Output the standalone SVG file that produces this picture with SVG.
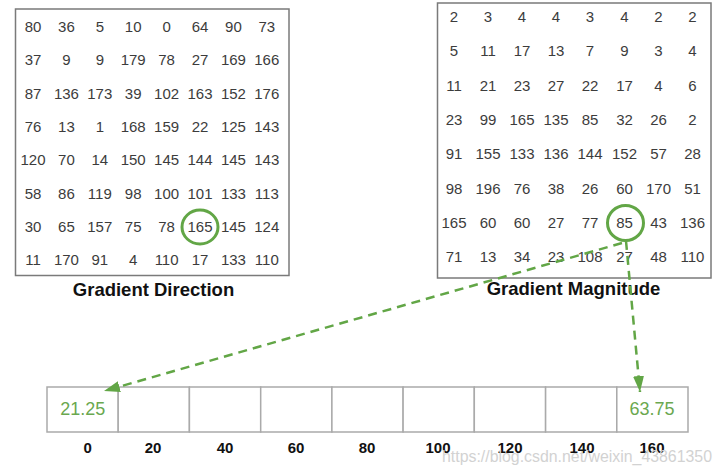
<svg xmlns="http://www.w3.org/2000/svg" width="722" height="476" viewBox="0 0 722 476">
<style>
.box{fill:#fff;stroke:#7a7a7a;stroke-width:1.5}
.n{font-family:"Liberation Sans",Arial,sans-serif;font-size:15px;fill:#3c3c3c;text-anchor:middle}
.title{font-family:"Liberation Sans",Arial,sans-serif;font-size:18.5px;font-weight:bold;fill:#111;text-anchor:middle}
.cell{fill:#fff;stroke:#aaa;stroke-width:1.5}
.lab{font-family:"Liberation Sans",Arial,sans-serif;font-size:15px;font-weight:bold;fill:#111;text-anchor:middle}
.val{font-family:"Liberation Sans",Arial,sans-serif;font-size:18px;fill:#6aa84f;text-anchor:middle}
.ring{fill:none;stroke:#62a646;stroke-width:3}
.conn{fill:none;stroke:#62a646;stroke-width:2.5;stroke-dasharray:9 6}
.wm{font-family:"Liberation Sans",Arial,sans-serif;font-size:16px;fill:#d2d2d2}
</style>
<defs>
<marker id="ah" markerUnits="userSpaceOnUse" markerWidth="18" markerHeight="12" refX="16" refY="5.5" orient="auto">
<path d="M0,0 L16,5.5 L0,11 z" fill="#62a646"/>
</marker>
</defs>
<rect width="722" height="476" fill="#fff"/>

<g id="direction">
<rect class="box" x="15.5" y="9" width="273.5" height="266.5"/>
<g class="n">
<text x="33" y="32">80</text><text x="66.4" y="32">36</text><text x="99.8" y="32">5</text><text x="133.2" y="32">10</text><text x="166.6" y="32">0</text><text x="200" y="32">64</text><text x="233.4" y="32">90</text><text x="266.8" y="32">73</text>
<text x="33" y="65.3">37</text><text x="66.4" y="65.3">9</text><text x="99.8" y="65.3">9</text><text x="133.2" y="65.3">179</text><text x="166.6" y="65.3">78</text><text x="200" y="65.3">27</text><text x="233.4" y="65.3">169</text><text x="266.8" y="65.3">166</text>
<text x="33" y="98.6">87</text><text x="66.4" y="98.6">136</text><text x="99.8" y="98.6">173</text><text x="133.2" y="98.6">39</text><text x="166.6" y="98.6">102</text><text x="200" y="98.6">163</text><text x="233.4" y="98.6">152</text><text x="266.8" y="98.6">176</text>
<text x="33" y="131.9">76</text><text x="66.4" y="131.9">13</text><text x="99.8" y="131.9">1</text><text x="133.2" y="131.9">168</text><text x="166.6" y="131.9">159</text><text x="200" y="131.9">22</text><text x="233.4" y="131.9">125</text><text x="266.8" y="131.9">143</text>
<text x="33" y="165.2">120</text><text x="66.4" y="165.2">70</text><text x="99.8" y="165.2">14</text><text x="133.2" y="165.2">150</text><text x="166.6" y="165.2">145</text><text x="200" y="165.2">144</text><text x="233.4" y="165.2">145</text><text x="266.8" y="165.2">143</text>
<text x="33" y="198.5">58</text><text x="66.4" y="198.5">86</text><text x="99.8" y="198.5">119</text><text x="133.2" y="198.5">98</text><text x="166.6" y="198.5">100</text><text x="200" y="198.5">101</text><text x="233.4" y="198.5">133</text><text x="266.8" y="198.5">113</text>
<text x="33" y="231.8">30</text><text x="66.4" y="231.8">65</text><text x="99.8" y="231.8">157</text><text x="133.2" y="231.8">75</text><text x="166.6" y="231.8">78</text><text x="200" y="231.8">165</text><text x="233.4" y="231.8">145</text><text x="266.8" y="231.8">124</text>
<text x="33" y="265.1">11</text><text x="66.4" y="265.1">170</text><text x="99.8" y="265.1">91</text><text x="133.2" y="265.1">4</text><text x="166.6" y="265.1">110</text><text x="200" y="265.1">17</text><text x="233.4" y="265.1">133</text><text x="266.8" y="265.1">110</text>
</g>
<ellipse class="ring" cx="200" cy="227" rx="18" ry="17"/>
<text class="title" x="153.5" y="296">Gradient Direction</text>
</g>

<g id="magnitude">
<rect class="box" x="437.5" y="3" width="273.5" height="275"/>
<g class="n">
<text x="454" y="22">2</text><text x="488" y="22">3</text><text x="522" y="22">4</text><text x="556" y="22">4</text><text x="590" y="22">3</text><text x="624.5" y="22">4</text><text x="658.5" y="22">2</text><text x="692.5" y="22">2</text>
<text x="454" y="56.3">5</text><text x="488" y="56.3">11</text><text x="522" y="56.3">17</text><text x="556" y="56.3">13</text><text x="590" y="56.3">7</text><text x="624.5" y="56.3">9</text><text x="658.5" y="56.3">3</text><text x="692.5" y="56.3">4</text>
<text x="454" y="90.6">11</text><text x="488" y="90.6">21</text><text x="522" y="90.6">23</text><text x="556" y="90.6">27</text><text x="590" y="90.6">22</text><text x="624.5" y="90.6">17</text><text x="658.5" y="90.6">4</text><text x="692.5" y="90.6">6</text>
<text x="454" y="124.9">23</text><text x="488" y="124.9">99</text><text x="522" y="124.9">165</text><text x="556" y="124.9">135</text><text x="590" y="124.9">85</text><text x="624.5" y="124.9">32</text><text x="658.5" y="124.9">26</text><text x="692.5" y="124.9">2</text>
<text x="454" y="159.2">91</text><text x="488" y="159.2">155</text><text x="522" y="159.2">133</text><text x="556" y="159.2">136</text><text x="590" y="159.2">144</text><text x="624.5" y="159.2">152</text><text x="658.5" y="159.2">57</text><text x="692.5" y="159.2">28</text>
<text x="454" y="193.5">98</text><text x="488" y="193.5">196</text><text x="522" y="193.5">76</text><text x="556" y="193.5">38</text><text x="590" y="193.5">26</text><text x="624.5" y="193.5">60</text><text x="658.5" y="193.5">170</text><text x="692.5" y="193.5">51</text>
<text x="454" y="227.8">165</text><text x="488" y="227.8">60</text><text x="522" y="227.8">60</text><text x="556" y="227.8">27</text><text x="590" y="227.8">77</text><text x="624.5" y="227.8">85</text><text x="658.5" y="227.8">43</text><text x="692.5" y="227.8">136</text>
<text x="454" y="262.1">71</text><text x="488" y="262.1">13</text><text x="522" y="262.1">34</text><text x="556" y="262.1">23</text><text x="590" y="262.1">108</text><text x="624.5" y="262.1">27</text><text x="658.5" y="262.1">48</text><text x="692.5" y="262.1">110</text>
</g>
<ellipse class="ring" cx="625.5" cy="223" rx="18" ry="17.5"/>
<text class="title" x="573.5" y="295">Gradient Magnitude</text>
</g>

<g id="histogram">
<rect class="cell" x="47" y="387" width="71.2" height="45"/>
<rect class="cell" x="118.2" y="387" width="71.2" height="45"/>
<rect class="cell" x="189.4" y="387" width="71.3" height="45"/>
<rect class="cell" x="260.7" y="387" width="71.2" height="45"/>
<rect class="cell" x="331.9" y="387" width="71.2" height="45"/>
<rect class="cell" x="403.1" y="387" width="71.2" height="45"/>
<rect class="cell" x="474.3" y="387" width="71.3" height="45"/>
<rect class="cell" x="545.6" y="387" width="71.2" height="45"/>
<rect class="cell" x="616.8" y="387" width="71.2" height="45"/>
<text class="val" x="82.7" y="415">21.25</text>
<text class="val" x="652" y="415">63.75</text>
<g class="lab">
<text x="87.7" y="453">0</text><text x="153" y="453">20</text><text x="225" y="453">40</text><text x="296" y="453">60</text><text x="367" y="453">80</text><text x="438" y="453">100</text><text x="510" y="453">120</text><text x="582" y="453">140</text><text x="652" y="453">160</text>
</g>
</g>

<g id="connectors">
<line class="conn" x1="622" y1="243" x2="104" y2="391" marker-end="url(#ah)"/>
<line class="conn" x1="626" y1="241" x2="640" y2="392" marker-end="url(#ah)"/>
</g>

<text class="wm" x="442" y="462" textLength="270" lengthAdjust="spacingAndGlyphs">https://blog.csdn.net/weixin_43861350</text>
</svg>
